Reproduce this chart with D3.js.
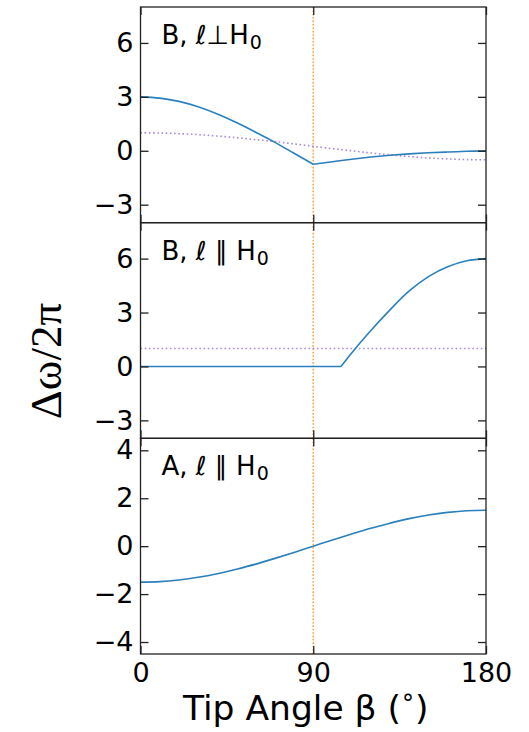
<!DOCTYPE html>
<html>
<head>
<meta charset="utf-8">
<script src="https://cdn.jsdelivr.net/npm/d3@7"></script>
<style>
  html, body { margin: 0; padding: 0; background: #fff; }
  svg { display: block; }
  text { font-family: "DejaVu Sans", sans-serif; fill: #000; }
</style>
</head>
<body>
<svg id="chart" width="529" height="732"></svg>
<script>
// Tip angle samples (degrees)
const beta = [0, 10, 20, 30, 40, 50, 60, 70, 80, 90, 100, 110, 120, 130, 140, 150, 160, 170, 180];

// Panel 1: B, ℓ ⊥ H0
const perpSolid  = [3.00, 2.93, 2.75, 2.45, 2.05, 1.57, 1.03, 0.47, -0.14, -0.75, -0.61, -0.47, -0.35, -0.25, -0.17, -0.11, -0.07, -0.03, 0.00];
const perpDotted = [1.00, 0.99, 0.95, 0.90, 0.82, 0.73, 0.62, 0.51, 0.38, 0.25, 0.12, 0.00, -0.12, -0.23, -0.32, -0.40, -0.45, -0.49, -0.50];
const perpBreaks = [90];

// Panel 2: B, ℓ ∥ H0
const paraBBeta   = [0, 104.5, 110, 120, 130, 140, 150, 160, 170, 180];
const paraBSolid  = [0, 0, 0.75, 2.00, 3.15, 4.20, 5.00, 5.55, 5.88, 6.00];
const paraBDotBeta = [0, 180];
const paraBDotted = [1, 1];
const paraBBreaks = [104.5];

// Panel 3: A, ℓ ∥ H0
const paraASolid = [-1.50, -1.48, -1.41, -1.30, -1.15, -0.96, -0.75, -0.51, -0.26, 0.00, 0.26, 0.51, 0.75, 0.96, 1.15, 1.30, 1.41, 1.48, 1.50];

// Axis ticks and labels
const xTicks = [0, 90, 180];
const yTicksB = [-3, 0, 3, 6];
const yTicksA = [-4, -2, 0, 2, 4];
const yDomainB = [-4, 8];
const yDomainA = [-4.5, 4.5];
const markerBeta = 90;

const svg = d3.select("#chart");
const plotLeft = 140.5, plotRight = 486, plotTop = 7, plotBottom = 654;
const panelH = (plotBottom - plotTop) / 3;

const x = d3.scaleLinear().domain([0, 180]).range([plotLeft, plotRight]);

const colors = { solid: "#2a7fbd", dotted: "#a98bdb", marker: "#ffa04a", axis: "#222" };

const panels = [
  { y0: plotTop,              domain: yDomainB, ticks: yTicksB,
    series: [
      { xs: beta, ys: perpDotted, style: "dotted", breaks: [] },
      { xs: beta, ys: perpSolid,  style: "solid",  breaks: perpBreaks }
    ],
    label: [["B,", 0], [" ℓ⊥H", 0], ["0", 1]] },
  { y0: plotTop + panelH,     domain: yDomainB, ticks: yTicksB,
    series: [
      { xs: paraBDotBeta, ys: paraBDotted, style: "dotted", breaks: [] },
      { xs: paraBBeta,    ys: paraBSolid,  style: "solid",  breaks: paraBBreaks }
    ],
    label: [["B,", 0], [" ℓ ∥ H", 0], ["0", 1]] },
  { y0: plotTop + 2 * panelH, domain: yDomainA, ticks: yTicksA,
    series: [
      { xs: beta, ys: paraASolid, style: "solid", breaks: [] }
    ],
    label: [["A,", 0], [" ℓ ∥ H", 0], ["0", 1]] }
];

// split a series into smooth pieces at its kinks
function segments(xs, ys, breaks) {
  const pts = xs.map((b, i) => [b, ys[i]]);
  const out = [];
  let cur = [];
  pts.forEach(p => {
    cur.push(p);
    if (breaks.includes(p[0])) { out.push(cur); cur = [p]; }
  });
  if (cur.length > 1) out.push(cur);
  return out;
}

const fmt = v => (v < 0 ? "\u2212" + Math.abs(v) : String(v));

panels.forEach((p, idx) => {
  const y = d3.scaleLinear().domain(p.domain).range([p.y0 + panelH, p.y0]);
  const g = svg.append("g");

  // vertical marker at 90°
  g.append("line")
    .attr("x1", x(markerBeta)).attr("x2", x(markerBeta))
    .attr("y1", p.y0).attr("y2", p.y0 + panelH)
    .attr("stroke", colors.marker).attr("stroke-width", 1.6)
    .attr("stroke-dasharray", "1.6,1.8");

  const line = d3.line().x(d => x(d[0])).y(d => y(d[1])).curve(d3.curveCatmullRom.alpha(0.5));

  p.series.forEach(s => {
    segments(s.xs, s.ys, s.breaks).forEach(seg => {
      const path = g.append("path")
        .attr("d", line(seg))
        .attr("fill", "none");
      if (s.style === "solid") {
        path.attr("stroke", colors.solid).attr("stroke-width", 1.6);
      } else {
        path.attr("stroke", colors.dotted).attr("stroke-width", 1.6)
          .attr("stroke-dasharray", "1.6,2.6");
      }
    });
  });

  // y axes (inward ticks on both sides)
  const yl = g.append("g").attr("transform", `translate(${plotLeft},0)`)
    .call(d3.axisLeft(y).tickValues(p.ticks).tickSizeInner(-8).tickSizeOuter(0).tickPadding(7).tickFormat(fmt));
  const yr = g.append("g").attr("transform", `translate(${plotRight},0)`)
    .call(d3.axisRight(y).tickValues(p.ticks).tickSizeInner(-8).tickSizeOuter(0).tickFormat(""));
  // x axes (inward ticks top and bottom)
  const xb = g.append("g").attr("transform", `translate(0,${p.y0 + panelH})`)
    .call(d3.axisBottom(x).tickValues(xTicks).tickSizeInner(-8).tickSizeOuter(0).tickPadding(9)
      .tickFormat(idx === 2 ? d3.format("d") : ""));
  const xtop = g.append("g").attr("transform", `translate(0,${p.y0})`)
    .call(d3.axisTop(x).tickValues(xTicks).tickSizeInner(-8).tickSizeOuter(0).tickFormat(""));

  [yl, yr, xb, xtop].forEach(a => {
    a.select(".domain").remove();
    a.selectAll(".tick line").attr("stroke", colors.axis).attr("stroke-width", 1.3);
    a.selectAll(".tick text").attr("font-family", "DejaVu Sans").attr("font-size", 27).attr("fill", "#000");
  });

  // frame
  g.append("rect")
    .attr("x", plotLeft).attr("y", p.y0)
    .attr("width", plotRight - plotLeft).attr("height", panelH)
    .attr("fill", "none").attr("stroke", colors.axis).attr("stroke-width", 1.3);

  // panel label
  const t = g.append("text")
    .attr("x", plotLeft + 21).attr("y", p.y0 + 37)
    .attr("font-size", 26);
  p.label.forEach(([s, sub]) => {
    const ts = t.append("tspan").text(s);
    if (sub) ts.attr("font-size", 19).attr("dy", 5).attr("dx", 1);
  });
});

// axis titles
svg.append("text")
  .attr("transform", "translate(61,361) rotate(-90)")
  .attr("text-anchor", "middle")
  .style("font-family", "'Liberation Serif', serif")
  .attr("font-size", 45)
  .text("Δω/2π");

const xTitle = svg.append("text")
  .attr("x", 183).attr("y", 720)
  .attr("font-size", 34.5);
xTitle.append("tspan").text("Tip Angle β (");
xTitle.append("tspan").text("°").attr("font-size", 24).attr("dy", -8).attr("dx", 1);
xTitle.append("tspan").text(")").attr("dy", 8).attr("dx", 1);
</script>
</body>
</html>
